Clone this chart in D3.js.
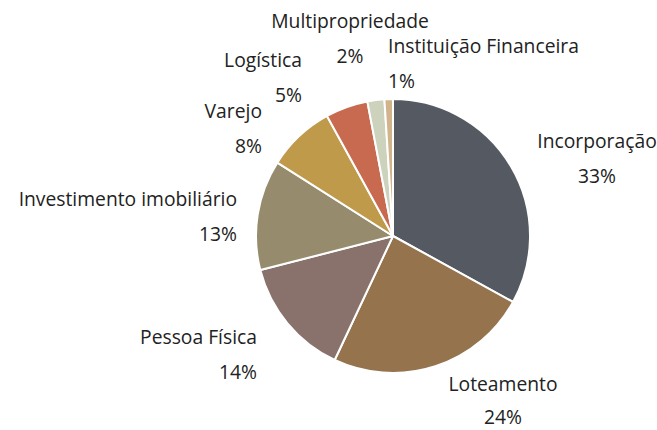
<!DOCTYPE html>
<html><head><meta charset="utf-8">
<script src="https://cdn.jsdelivr.net/npm/d3@7"></script>
<style>body{margin:0;background:#fff}</style>
</head><body>
<svg id="c" width="657" height="430"></svg>
<script>
const categories = ["Incorporação","Loteamento","Pessoa Física","Investimento imobiliário","Varejo","Logística","Multipropriedade","Instituição Financeira"];
const values = [33,24,14,13,8,5,2,1];
const colors = ["#555a62","#94734d","#89716c","#968c6d","#c09a4b","#c76a50","#ccd2bb","#d2b48c"];
// label layout: offset from pie centre [dx, dy of first line, anchor]
const labelLayout = [[204,-88,"middle"],[110,155,"middle"],[-136,108,"end"],[-156,-30,"end"],[-131,-118,"end"],[-91,-169,"end"],[-43,-208,"middle"],[-5,-183,"start"]];

const svg = d3.select("#c");
const cx = 393, cy = 236, r = 137;
const g = svg.append("g").attr("transform",`translate(${cx},${cy})`);
const pie = d3.pie().sort(null).value(d=>d)(values);
const arc = d3.arc().innerRadius(0).outerRadius(r);
g.selectAll("path").data(pie).join("path")
  .attr("d",arc).attr("fill",(d,i)=>colors[i])
  .attr("stroke","#fff").attr("stroke-width",2).attr("stroke-linejoin","round");
const font = "'Open Sans', sans-serif";
labelLayout.forEach((l,i)=>{
  const t = g.append("text").attr("x",l[0]).attr("y",l[1]).attr("text-anchor",l[2])
    .attr("font-family",font).attr("font-size",19.3).attr("fill","#222");
  t.append("tspan").attr("x",l[0]).text(categories[i]);
  t.append("tspan").attr("x",l[0]).attr("dy",i===1?33:35).text(values[i]+"%");
});
</script>
</body></html>
